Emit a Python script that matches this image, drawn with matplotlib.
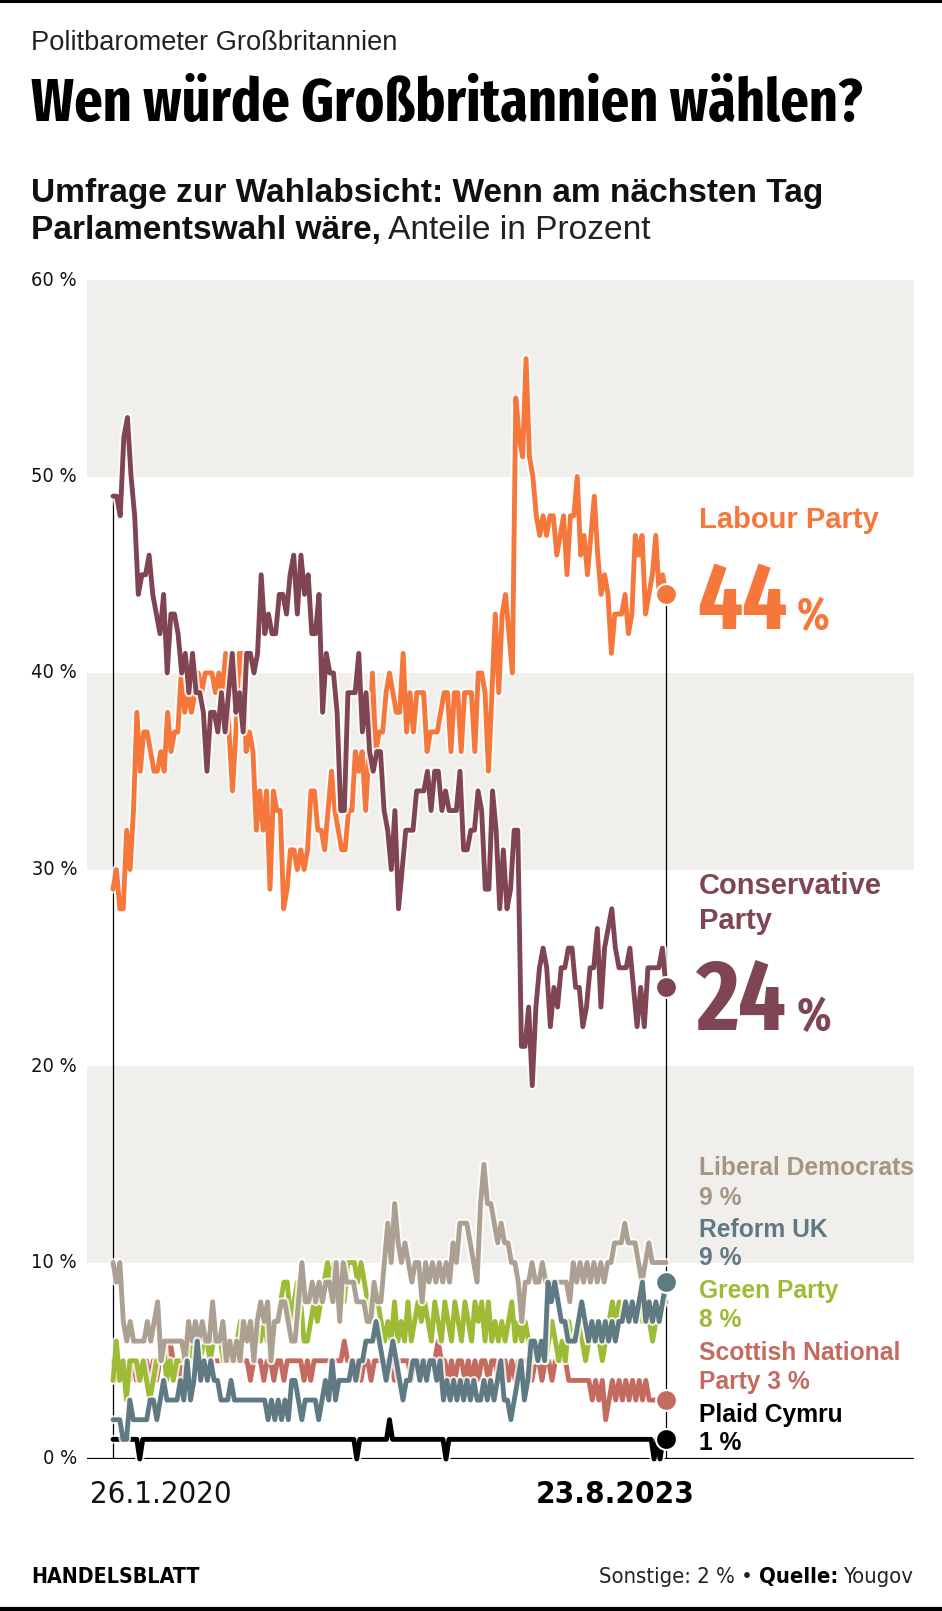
import matplotlib
matplotlib.use('Agg')
import matplotlib.pyplot as plt
import matplotlib.dates as mdates
import matplotlib.patheffects as pe
import matplotlib.font_manager as fm
import numpy as np
import pandas as pd

# --- data (weekly Yougov polls) ---
start_date = '2020-01-26'
end_date = '2023-08-23'

labour = [29, 30, 28, 28, 32, 30, 33, 38, 35, 37, 37, 36, 35, 35, 36, 35, 38, 36, 37, 37,
          40, 38, 39, 38, 39, 40, 39, 40, 40, 40, 39, 40, 39, 41, 37, 34, 37, 41, 41, 36, 37, 36,
          32, 34, 32, 34, 29, 34, 33, 33, 28, 29, 31, 31, 30,
          31, 30, 31, 34, 34, 32, 32, 31, 33, 35, 33, 32, 31, 31, 33, 33, 36, 35, 36, 33,
          36, 40, 36, 37, 37, 39, 40, 39, 38, 38, 41, 37, 39, 37, 39, 39, 39, 36, 37, 37, 37,
          38, 39, 39, 36, 39, 39, 36, 39, 39, 39, 36, 40, 40,
          39, 35, 39, 43, 39, 43, 44, 42, 40, 54, 52, 51, 56, 51, 50, 48, 47, 48, 47, 48,
          48, 46, 47, 48, 45, 48, 48, 50, 46, 47, 45, 47, 49, 46, 44, 45, 44, 41, 43, 43,
          43, 44, 42, 43, 47, 46, 47, 43, 44, 45, 47, 44, 45, 44]

conservative = [49, 49, 48, 52, 53, 50, 48, 44, 45, 45, 46, 44, 43, 42, 44, 40, 43, 43, 42, 40,
                41, 39, 41, 39, 39, 38, 35, 38, 38, 37, 39, 37, 39, 41, 38, 39, 37, 41, 41, 40,
                41, 45, 42, 43, 42, 42, 44, 44, 43, 45, 46, 43, 46, 44, 45, 42,
                42, 44, 38, 41, 40, 40, 38, 33, 33, 39, 39, 39, 41, 37, 39, 36, 35, 36, 36, 33,
                32, 30, 33, 28, 30, 32, 32, 32, 34, 34, 34, 35, 33, 35, 35, 33, 34, 33, 33, 33,
                35, 31, 31, 32, 32, 34, 33, 29, 29, 34,
                32, 28, 31, 28, 29, 32, 32, 21, 21, 23, 19, 23, 25, 26, 25, 22, 24, 23, 25, 25,
                26, 26, 24, 24, 22, 23, 25, 25, 27, 23, 26, 27, 28, 26, 25, 25, 25, 26, 24, 22,
                24, 22, 25, 25, 25, 25, 26, 24]

libdem = [10, 9, 10, 7, 6, 7, 6, 6, 6, 6, 7, 6, 7, 8, 5, 6, 6, 6, 6, 6, 6, 5, 7, 6, 7, 6, 7, 6,
          6, 8, 6, 6, 7, 5, 6, 5, 6, 5, 7, 6, 7, 5, 7, 8, 7, 8, 5, 7, 7, 8, 8, 7, 6, 6, 8, 10,
          8, 8, 9, 8, 9, 8, 9, 9, 8, 10, 7, 10, 9, 9, 9, 8, 8, 8, 7, 7, 9, 8, 8, 10, 12, 10,
          13, 11, 10, 11, 10, 9, 10, 10, 8, 10, 9, 10, 9, 10, 9, 10, 9, 11, 10, 12, 12, 12,
          11, 10, 9, 13, 15,
          13, 13, 12, 11, 12, 11, 11, 10, 10, 9, 7, 9, 9, 10, 9, 9, 10, 9, 9, 9, 9, 9, 9, 9,
          8, 10, 9, 10, 9, 10, 9, 10, 9, 10, 9, 10, 10, 11, 11, 11, 12, 11, 11, 11, 10, 9,
          10, 11, 10, 10, 10, 10, 10]

reform = [2, 2, 2, 1, 1, 3, 2, 2, 2, 2, 2, 3, 3, 2, 3, 4, 3, 3, 3, 3, 4, 3, 5, 3, 4, 6, 4, 5,
          4, 5, 4, 4, 3, 3, 3, 4, 3, 3, 3, 3, 3, 3, 3, 3, 3, 3, 2, 3, 2, 3, 2, 3, 2, 4, 4,
          3, 2, 3, 3, 3, 3, 2, 3, 4, 3, 5, 3, 4, 4, 4, 4, 5, 4, 5, 5, 6, 6, 6, 7, 6, 5, 4, 5,
          6, 5, 4, 3, 4, 4, 5, 5, 4, 5, 4, 5, 5, 4, 5, 3, 4, 3, 4, 3, 4, 3, 4, 3, 4, 3,
          3, 4, 3, 4, 3, 4, 5, 3, 3, 2, 3, 4, 5, 3, 4, 6, 6, 5, 6, 5, 9, 8, 9, 8, 7, 7, 6, 6,
          6, 7, 8, 7, 6, 7, 6, 7, 6, 7, 6, 7, 6, 7, 7, 8, 7, 8, 7, 8, 9, 7, 8, 7, 8, 7, 8, 9]

green = [4, 6, 4, 5, 3, 5, 5, 5, 4, 5, 4, 3, 4, 5, 5, 6, 4, 5, 4, 5,
         5, 5, 6, 5, 6, 6, 5, 6, 6, 5, 6, 6, 6, 5, 6, 6, 6, 6, 7, 7, 6, 6, 7, 7, 6, 7, 6, 6,
         7, 7, 8, 9, 9, 7, 8, 9,
         8, 6, 6, 7, 8, 7, 8, 9, 10, 9, 10, 8, 9, 8, 10, 10, 10, 9, 10, 9, 8, 7, 8, 8, 7, 6,
         7, 6, 8, 6, 7, 6, 8, 6, 7, 8, 7, 8, 7, 6, 8, 7, 6, 8, 7, 6, 8, 7, 6, 8, 7, 6, 8,
         7, 8, 6, 8, 6, 7, 6, 7, 6, 7, 8, 6, 7, 6, 7, 6, 5, 6, 5, 6, 5, 6, 7, 6, 5, 6, 5, 7,
         6, 6, 7, 6, 5, 6, 6, 7, 6, 5, 6, 7, 8, 7, 8, 7, 8, 7, 8, 7, 8, 7, 8, 7, 6, 7, 7, 8, 8]

snp = [5, 4, 4, 5, 4, 4, 5, 4, 4, 5, 5, 4, 5, 4, 5, 5, 5, 6, 5, 5, 4, 5, 5, 5, 5, 5, 5, 5,
       5, 5, 5, 5, 5, 5, 5, 5, 5, 5, 5, 5, 5, 4, 5, 5, 5, 4, 5, 5, 4, 5, 5, 4, 5, 5, 5, 5,
       5, 4, 5, 4, 5, 5, 5, 5, 5, 5, 5, 5, 5, 6, 5, 5, 5, 5, 4, 5, 5, 4, 5, 5, 5, 5, 5, 5,
       4, 5, 5, 5, 5, 4, 5, 5, 5, 5, 5, 5, 5, 6, 5, 5, 4, 5, 4, 5, 5, 4, 5, 4, 5,
       4, 5, 5, 4, 5, 5, 4, 5, 5, 4, 5, 4, 5, 5, 5, 5, 4, 5, 5, 4, 5, 5, 4, 5, 5, 5, 5,
       4, 4, 4, 4, 4, 4, 4, 3, 4, 3, 4, 2, 3, 4, 3, 4, 3, 4, 3, 4, 3, 4, 3, 4, 3, 3, 3, 3, 3, 3]

plaid = [1, 1, 1, 1, 1, 1, 1, 1, 1, 0, 1, 1, 1, 1, 1, 1, 1, 1, 1, 1,
         1, 1, 1, 1, 1, 1, 1, 1, 1, 1, 1, 1, 1, 1, 1, 1, 1, 1, 1, 1,
         1, 1, 1, 1, 1, 1, 1, 1, 1, 1, 1, 1, 1, 1, 1, 1, 1, 1, 1, 1,
         1, 1, 1, 1, 1, 1, 1, 1, 1, 1, 1, 1, 1, 1, 1, 1, 1, 1, 1, 1,
         1, 1, 0, 1, 1, 1, 1, 1, 1, 1, 1, 1, 1, 2, 1, 1, 1, 1, 1, 1,
         1, 1, 1, 1, 1, 1, 1, 1, 1, 1, 1, 1, 0, 1, 1, 1, 1, 1, 1, 1,
         1, 1, 1, 1, 1, 1, 1, 1, 1, 1, 1, 1, 1, 1, 1, 1, 1, 1, 1, 1,
         1, 1, 1, 1, 1, 1, 1, 1, 1, 1, 1, 1, 1, 1, 1, 1, 1, 1, 1, 1,
         1, 1, 1, 1, 1, 1, 1, 1, 1, 1, 1, 1, 1, 1, 1, 1, 1, 1, 1, 1,
         1, 1, 0, 1, 0, 1, 1]

y_ticks = [0, 10, 20, 30, 40, 50, 60]
bands = [(10, 20), (30, 40), (50, 60)]

# name, values, colour, end dot  (drawing order bottom -> top)
parties = [
    ('Plaid Cymru', plaid, '#000000', True),
    ('Scottish National Party', snp, '#C46B5F', True),
    ('Green Party', green, '#9DBB35', False),
    ('Liberal Democrats', libdem, '#ABA092', False),
    ('Reform UK', reform, '#607A84', True),
    ('Labour Party', labour, '#F5773B', True),
    ('Conservative Party', conservative, '#7F4553', True),
]

W, H = 942, 1611
SANS = ['Liberation Sans', 'DejaVu Sans']
BAND = '#F0EFEB'


def wnum(w):
    if isinstance(w, str):
        return fm.weight_dict.get(w, 400)
    return w


def is_cond(f):
    return 'condensed' in str(f.stretch) or 'Condensed' in f.name or 'Narrow' in f.name


def pick_font(bold, prefer_extra=False):
    cands = [f for f in fm.fontManager.ttflist if is_cond(f) and f.style == 'normal']
    if bold:
        cands = [f for f in cands if wnum(f.weight) >= 600]
        target = 700
    else:
        cands = [f for f in cands if wnum(f.weight) < 600]
        target = 400

    def score(f):
        s = abs(wnum(f.weight) - target)
        extra = 'extra' in str(f.stretch) or 'Extra' in f.name
        if prefer_extra and not extra:
            s += 150
        if not prefer_extra and extra:
            s += 150
        return s
    if cands:
        return fm.FontProperties(fname=sorted(cands, key=score)[0].fname)
    return fm.FontProperties(family=SANS, weight='bold' if bold else 'normal')


COND_REG = pick_font(False)
COND_BOLD = pick_font(True)
TITLE_FONT = pick_font(True, prefer_extra=True)


def fx(x):
    return x / W


def fy(y):
    return 1 - y / H


fig = plt.figure(figsize=(W / 100, H / 100), dpi=100)
fig.patch.set_facecolor('white')
r = fig.canvas.get_renderer()


def fit(t, target):
    w = t.get_window_extent(r).width
    t.set_fontsize(t.get_fontsize() * target / w)
    return t.get_fontsize()


def ftext(x, y, s, fp, size, **kw):
    return fig.text(x, y, s, fontproperties=fp.copy(), fontsize=size, **kw)


ax = fig.add_axes([fx(87), fy(1459), (914 - 87) / W, (1459 - 280) / H])
d0 = mdates.date2num(pd.Timestamp(start_date))
d1 = mdates.date2num(pd.Timestamp(end_date))
per_px = (d1 - d0) / (666 - 113)
ax.set_xlim(d0 - 26 * per_px, d1 + 248 * per_px)
ax.set_ylim(0, 60)
for s in ax.spines.values():
    s.set_visible(False)
ax.set_xticks([])
ax.set_yticks([])

for lo, hi in bands:
    ax.axhspan(lo, hi, color=BAND, zorder=0, lw=0)
ax.axhline(0, color='black', lw=1.6, zorder=1.2)

tick_txt = []
for v in y_ticks:
    tick_txt.append(ax.text(-0.012, v, f'{v} %', transform=ax.get_yaxis_transform(),
                            ha='right', va='center', fontproperties=COND_REG.copy(),
                            fontsize=14, color='#111111'))
ts = min(fit(tick_txt[-1], 46), 17)
for t in tick_txt:
    t.set_fontsize(ts)

# guide lines at start and end
ax.plot([d0, d0], [0, conservative[0]], color='black', lw=0.9, zorder=1.5)
ax.plot([d1, d1], [0, labour[-1]], color='black', lw=0.9, zorder=1.5)

halo = [pe.Stroke(linewidth=6.4, foreground=(1, 1, 1, 0.8)), pe.Normal()]
for z, (name, vals, col, dot) in enumerate(parties):
    xs = np.linspace(d0, d1, len(vals))
    ax.plot(xs, vals, color=col, lw=3.5, zorder=2 + z, solid_joinstyle='round',
            solid_capstyle='round', path_effects=halo, clip_on=False)
    if dot:
        ax.plot(d1, vals[-1], 'o', ms=15, color=col, mec='white', mew=1.5,
                zorder=20, clip_on=False)

# header
t = fig.text(fx(31), fy(50), 'Politbarometer Großbritannien', fontsize=19, family=SANS,
             va='baseline', color='#222222')
fit(t, 366)
t = ftext(fx(31), fy(121), 'Wen würde Großbritannien wählen?', TITLE_FONT, 40, va='baseline')
fit(t, 830)
t = fig.text(fx(31), fy(202), 'Umfrage zur Wahlabsicht: Wenn am nächsten Tag', fontsize=24,
             family=SANS, weight='bold', va='baseline', color='#111111')
sub = fit(t, 796)
t = fig.text(fx(31), fy(239), 'Parlamentswahl wäre,', fontsize=sub, family=SANS,
             weight='bold', va='baseline', color='#111111')
bb = t.get_window_extent(r)
fig.text((bb.x1 + 7) / W, fy(239), 'Anteile in Prozent', fontsize=sub, family=SANS,
         va='baseline', color='#222222')


# right labels: big parties
def big_label(lines, y_lines, value, y_base, col):
    for line, yy in zip(lines, y_lines):
        fig.text(fx(699), fy(yy), line, fontsize=21, family=SANS, weight='bold',
                 color=col, va='center')
    n = ftext(fx(697), fy(y_base), str(value), TITLE_FONT, 60, va='baseline', color=col)
    fs = fit(n, 90)
    b = n.get_window_extent(r)
    ftext((b.x1 + 10) / W, fy(y_base), '%', TITLE_FONT, fs * 0.47, va='baseline', color=col)


big_label(['Labour Party'], [520], labour[-1], 629, '#F5773B')
big_label(['Conservative', 'Party'], [886, 921], conservative[-1], 1030, '#7F4553')

small = [
    ('Liberal Democrats', '9 %', 1168, 1198, '#A39685'),
    ('Reform UK', '9 %', 1230, 1258, '#607A84'),
    ('Green Party', '8 %', 1291, 1320, '#9DBB35'),
    ('Scottish National', 'Party 3 %', 1353, 1382, '#C46B5F'),
    ('Plaid Cymru', '1 %', 1415, 1443, '#000000'),
]
for l1, l2, y1, y2, col in small:
    fig.text(fx(699), fy(y1), l1, fontsize=17.7, family=SANS, weight='bold', color=col,
             va='center')
    fig.text(fx(699), fy(y2), l2, fontsize=17.7, family=SANS, weight='bold', color=col,
             va='center')

# date labels
t = ftext(fx(90), fy(1503), '26.1.2020', COND_REG, 28, va='baseline', color='#111111')
fit(t, 142)
t = ftext(fx(536), fy(1503), '23.8.2023', COND_BOLD, 28, va='baseline')
fit(t, 158)

# footer
t = ftext(fx(31), fy(1583), 'HANDELSBLATT', COND_BOLD, 17, va='baseline')
fit(t, 169)
foot = [('Sonstige: 2 % •', COND_REG, '#222222'), ('Quelle:', COND_BOLD, 'black'),
        ('Yougov', COND_REG, '#222222')]
gap = 6
widths = []
for s, fp, col in foot:
    p = ftext(0, 0, s, fp, 17)
    widths.append(p.get_window_extent(r).width)
    p.remove()
fs_foot = 17 * (315 - 2 * gap) / sum(widths)
x_right = 914
for s, fp, col in reversed(foot):
    t = ftext(fx(x_right), fy(1583), s, fp, fs_foot, ha='right', va='baseline', color=col)
    x_right = t.get_window_extent(r).x0 - gap

# top and bottom rules
fig.add_artist(plt.Line2D([0, 1], [fy(1), fy(1)], color='black', lw=2.2))
fig.add_artist(plt.Line2D([0, 1], [fy(1609), fy(1609)], color='black', lw=3))

fig.savefig('out.png', dpi=100)
